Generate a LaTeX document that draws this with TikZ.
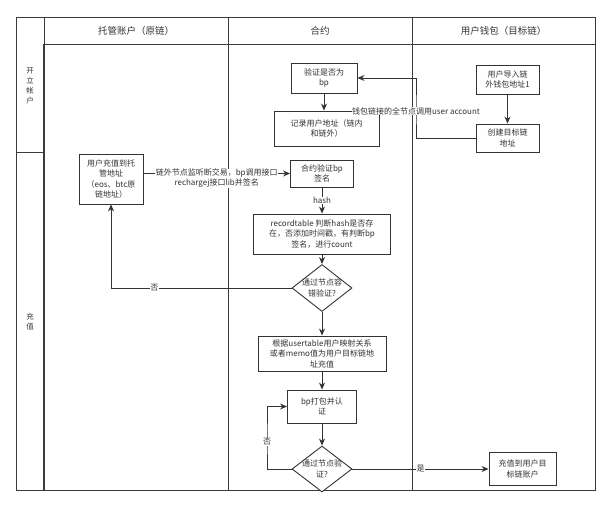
\documentclass[tikz,border=0pt]{standalone}
\usepackage{fontspec}
\setmainfont{Noto Sans CJK SC}
\usetikzlibrary{arrows.meta, positioning, shapes.geometric, calc}
\definecolor{ink}{HTML}{333333}
\definecolor{lanegray}{HTML}{3A3A3A}

\begin{document}
\begin{tikzpicture}[
  x=1pt, y=-1pt,
  box/.style={draw=ink, rectangle, fill=white, line width=0.9pt, align=center, text=ink, font=\fontsize{8}{10.5}\selectfont, inner sep=0pt},
  check/.style={draw=ink, diamond, fill=white, line width=0.9pt, inner sep=0pt, minimum width=60pt, minimum height=47pt},
  dtext/.style={align=center, text=ink, font=\fontsize{8}{10.5}\selectfont},
  flow/.style={->, draw=ink, line width=0.9pt},
  elabel/.style={fill=white, text=ink, font=\fontsize{8}{10}\selectfont, inner sep=0.5pt, align=center},
  lane/.style={draw=lanegray, line width=0.8pt},
  lanehead/.style={text=ink, font=\fontsize{9.5}{11}\selectfont},
  lanetitle/.style={text=ink, align=center, font=\fontsize{7.5}{10}\selectfont},
  >={Stealth[length=7pt, width=6pt]}
]
\useasboundingbox (0,0) rectangle (612,510);

% swimlanes
\draw[lane] (16,17) rectangle (595,490);
\draw[lane] (44,17) -- (44,44);
\draw[lane, line width=2pt] (44,44) -- (44,490);
\draw[lane] (44,44) -- (595,44);
\draw[lane] (228,17) -- (228,490);
\draw[lane] (412,17) -- (412,490);
\draw[lane] (16,152) -- (44,152);

\node[lanehead] (custodyhead) at (136,31) {托管账户（原链）};
\node[lanehead] (contracthead) at (320,31) {合约};
\node[lanehead] (wallethead) at (503.5,31) {用户钱包（目标链）};
\node[lanetitle] (laneopen) at (30,86) {开\\立\\帐\\户};
\node[lanetitle] (lanecharge) at (30,322) {充\\值};

% steps
\node[box, minimum width=66pt, minimum height=30pt] (verify) at (324,78) {验证是否为\\bp};
\node[box, minimum width=105pt, minimum height=35pt] (record) at (326.5,128.5) {记录用户地址（链内\\和链外）};
\node[box, minimum width=63pt, minimum height=29pt] (import) at (507.5,79.5) {用户导入链\\外钱包地址1};
\node[box, minimum width=63pt, minimum height=28pt] (create) at (507.5,138) {创建目标链\\地址};
\node[box, minimum width=64pt, minimum height=50pt] (deposit) at (111,179) {用户充值到托\\管地址\\（eos、btc原\\链地址）};
\node[box, minimum width=63pt, minimum height=27pt] (sign) at (322,173.5) {合约验证bp\\签名};
\node[box, minimum width=137pt, minimum height=40pt] (rectable) at (322,234) {recordtable 判断hash是否存\\在，否添加时间戳，有判断bp\\签名，进行count};
\node[check, label={[dtext]center:通过节点容\\错验证?}] (faulttol) at (322,288) {};
\node[box, minimum width=128pt, minimum height=35pt] (mapping) at (322,353.5) {根据usertable用户映射关系\\或者memo值为用户目标链地\\址充值};
\node[box, minimum width=69pt, minimum height=33pt] (pack) at (322,406.5) {bp打包并认\\证};
\node[check, minimum height=46pt, label={[dtext]center:通过节点验\\证?}] (nodecheck) at (322,469) {};
\node[box, minimum width=67pt, minimum height=33pt] (credit) at (522.5,469) {充值到用户目\\标链账户};

% connectors
\coordinate (acctbend) at (416,111);
\coordinate (retrybend) at (267,440);
\draw[flow] (import) -- (create);
\draw[flow] (create.west) -| (acctbend) |- (verify.east);
\node[elabel] (acctlabel) at (acctbend) {钱包链接的全节点调用user account};
\draw[flow] (verify) -- (verify |- record.north);
\draw[flow] (deposit.east |- sign.west) -- node[elabel, yshift=-5pt] (txlabel) {链外节点监听断交易，bp调用接口\\rechargej接口lib并签名} (sign.west);
\draw[flow] (sign) -- node[elabel] (hashlabel) {hash} (rectable);
\draw[flow] (rectable) -- (faulttol);
\draw[flow] (faulttol.west) -| node[elabel, pos=0.38] (nolabel) {否} (deposit.south);
\draw[flow] (faulttol) -- (mapping);
\draw[flow] (mapping) -- (pack);
\draw[flow] (pack) -- (nodecheck);
\draw[flow] (nodecheck.west) -| (retrybend) |- (pack.west);
\node[elabel] (retrylabel) at (267,442) {否};
\draw[flow] (nodecheck.east) -- node[elabel] (yeslabel) {是} (credit.west);
\end{tikzpicture}
\end{document}
